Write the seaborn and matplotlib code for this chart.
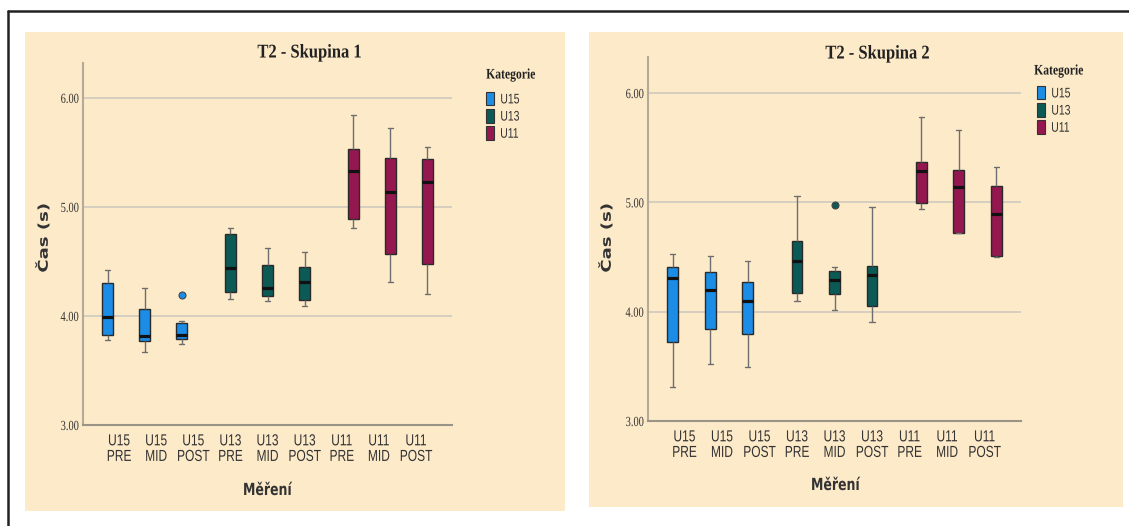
import numpy as np
import pandas as pd
import matplotlib
matplotlib.use("Agg")
import matplotlib.pyplot as plt
from matplotlib.patches import Rectangle, Patch
from matplotlib.transforms import Affine2D
from matplotlib import patheffects
import seaborn as sns

# Measurement sessions (x axis) and age categories (hue)
measurements = ["U15\nPRE", "U15\nMID", "U15\nPOST",
                "U13\nPRE", "U13\nMID", "U13\nPOST",
                "U11\nPRE", "U11\nMID", "U11\nPOST"]
box_category = ["U15", "U15", "U15", "U13", "U13", "U13", "U11", "U11", "U11"]
categories = ["U15", "U13", "U11"]
palette = ["#1c8de6", "#0b5a56", "#95174f"]

# Group 1: five-number summaries (s) per measurement, plus outliers
g1_low = [3.78, 3.67, 3.74, 4.16, 4.14, 4.09, 4.81, 4.31, 4.20]
g1_q1 = [3.83, 3.77, 3.79, 4.22, 4.18, 4.15, 4.89, 4.57, 4.48]
g1_med = [3.99, 3.82, 3.83, 4.44, 4.26, 4.31, 5.33, 5.14, 5.23]
g1_q3 = [4.30, 4.06, 3.94, 4.75, 4.47, 4.45, 5.53, 5.45, 5.44]
g1_high = [4.42, 4.26, 3.95, 4.81, 4.62, 4.59, 5.84, 5.72, 5.55]
g1_outlier = [None, None, 4.19, None, None, None, None, None, None]

# Group 2
g2_low = [3.31, 3.52, 3.49, 4.10, 4.02, 3.91, 4.94, 4.72, 4.50]
g2_q1 = [3.72, 3.84, 3.80, 4.17, 4.16, 4.05, 4.99, 4.72, 4.51]
g2_med = [4.31, 4.20, 4.10, 4.46, 4.29, 4.34, 5.29, 5.14, 4.89]
g2_q3 = [4.41, 4.36, 4.27, 4.65, 4.37, 4.42, 5.37, 5.30, 5.15]
g2_high = [4.53, 4.51, 4.46, 5.06, 4.41, 4.96, 5.78, 5.66, 5.32]
g2_outlier = [None, None, None, None, 4.98, None, None, None, None]


def build_frame(low, q1, med, q3, high, outlier):
    """Expand each summary into 9 observations whose quartiles equal it."""
    rows = []
    for i, m in enumerate(measurements):
        if outlier[i] is None:
            vals = [low[i], q1[i], q1[i], q1[i], med[i], q3[i], q3[i], q3[i], high[i]]
        else:
            vals = [low[i], q1[i], q1[i], q1[i], med[i], q3[i], q3[i], high[i], outlier[i]]
        for v in vals:
            rows.append({"Měření": m, "Kategorie": box_category[i], "Čas (s)": v})
    return pd.DataFrame(rows)


df1 = build_frame(g1_low, g1_q1, g1_med, g1_q3, g1_high, g1_outlier)
df2 = build_frame(g2_low, g2_q1, g2_med, g2_q3, g2_high, g2_outlier)


class Squash(patheffects.AbstractPathEffect):
    """Scale glyph outlines about their own centre (condensed lettering)."""

    def __init__(self, sx=1.0, sy=1.0):
        super().__init__()
        self.sx, self.sy = sx, sy

    def draw_path(self, renderer, gc, tpath, affine, rgbFace=None):
        ext = tpath.get_extents()
        cx, cy = (ext.x0 + ext.x1) / 2, (ext.y0 + ext.y1) / 2
        aff = (Affine2D().translate(-cx, -cy).scale(self.sx, self.sy)
               .translate(cx, cy) + affine)
        renderer.draw_path(gc, tpath, aff, rgbFace)


SQ = 0.75
narrow_fx = [Squash(SQ, 1.0)]
rot_fx = [Squash(1.0, SQ)]

sns.set_theme(style="white")
plt.rcParams["font.family"] = ["DejaVu Sans"]

W, H = 1129, 526
fig = plt.figure(figsize=(W / 100, H / 100), dpi=100, facecolor="white")

bg = "#fdeac9"
serif = ["Liberation Serif", "DejaVu Serif"]
sans = ["Liberation Sans", "DejaVu Sans"]


def px(x, y):
    return x / W, 1 - y / H


# outer frame lines (top and left)
fig.add_artist(plt.Line2D([8 / W, 1.0], [1 - 11 / H, 1 - 11 / H], color="#222222", lw=1.8,
                          transform=fig.transFigure))
fig.add_artist(plt.Line2D([8 / W, 8 / W], [0, 1 - 11 / H], color="#222222", lw=1.8,
                          transform=fig.transFigure))

# panel backgrounds
for (x0, y0, x1, y1) in [(25, 32, 565, 511), (589, 32, 1123, 507)]:
    fig.add_artist(Rectangle((x0 / W, 1 - y1 / H), (x1 - x0) / W, (y1 - y0) / H,
                             transform=fig.transFigure, facecolor=bg, edgecolor="none",
                             zorder=0))

panels = [
    dict(df=df1, rect=(83, 63, 452, 425), ytop=6.32, title="T2 - Skupina 1",
         title_xy=(310, 53), ylabel_xy=(44, 238), xlabel_xy=(267, 490),
         legtitle_xy=(480, 75), legend_xy=(486, 92)),
    dict(df=df2, rect=(648, 57, 1021, 421), ytop=6.33, title="T2 - Skupina 2",
         title_xy=(878, 54), ylabel_xy=(607, 238), xlabel_xy=(835, 485),
         legtitle_xy=(1028, 71), legend_xy=(1037, 86)),
]

for p in panels:
    x0, y0, x1, y1 = p["rect"]
    ax = fig.add_axes([x0 / W, 1 - y1 / H, (x1 - x0) / W, (y1 - y0) / H])
    ax.set_facecolor(bg)
    sns.boxplot(data=p["df"], x="Měření", y="Čas (s)", hue="Kategorie",
                order=measurements, hue_order=categories, palette=palette,
                dodge=True, width=0.93, gap=0.08, whis=1.5, saturation=1,
                linewidth=1.0, linecolor="#2a2a2a",
                whiskerprops=dict(color="#6e6e6e", linewidth=1.0),
                capprops=dict(color="#6e6e6e", linewidth=1.0),
                medianprops=dict(color="#111111", linewidth=2.3),
                flierprops=dict(marker="o", markersize=5, markeredgecolor="#444444",
                                markeredgewidth=0.8),
                legend=False, ax=ax)
    # colour outlier markers with their box colour
    for cont, col in zip(ax.containers, palette):
        fl = getattr(cont, "fliers", None)
        if fl is None:
            continue
        for f in fl:
            f.set_markerfacecolor(col)

    ax.set_ylim(3.0, p["ytop"])
    ax.set_xlim(-0.97, len(measurements) - 0.03)
    ax.set_yticks([3, 4, 5, 6])
    ax.set_yticklabels(["3.00", "4.00", "5.00", "6.00"])
    for t in ax.get_yticklabels():
        t.set_fontfamily(serif)
        t.set_fontsize(10)
        t.set_color("#333333")
        t.set_path_effects(narrow_fx)
    for t in ax.get_xticklabels():
        t.set_fontfamily(sans)
        t.set_fontsize(11.5)
        t.set_color("#333333")
        t.set_linespacing(1.05)
        t.set_path_effects(narrow_fx)
    ax.tick_params(axis="y", length=0, pad=1)
    ax.tick_params(axis="x", length=0, pad=6)
    for yv in [4, 5, 6]:
        ax.axhline(yv, color="#d2ccbd", lw=1.3, zorder=0)
    for s in ["top", "right"]:
        ax.spines[s].set_visible(False)
    ax.spines["left"].set_color("#b3aa98")
    ax.spines["left"].set_linewidth(1.5)
    ax.spines["bottom"].set_color("#9a9486")
    ax.spines["bottom"].set_linewidth(1.5)
    ax.set_xlabel("")
    ax.set_ylabel("")

    fig.text(*px(*p["title_xy"]), p["title"], ha="center", va="center",
             fontfamily=serif, fontweight="bold", fontsize=14, color="#222222",
             path_effects=[Squash(0.85, 1.0)])
    fig.text(*px(*p["ylabel_xy"]), "Čas (s)", ha="center", va="center", rotation=90,
             fontweight="bold", fontsize=13, color="#333333", path_effects=rot_fx)
    fig.text(*px(*p["xlabel_xy"]), "Měření", ha="center", va="center",
             fontweight="bold", fontsize=12, color="#333333", path_effects=narrow_fx)
    fig.text(*px(*p["legtitle_xy"]), "Kategorie", ha="left", va="center",
             fontfamily=serif, fontweight="bold", fontsize=10.5, color="#222222",
             path_effects=[Squash(0.8, 1.0)])

    handles = [Patch(facecolor=c, edgecolor="#333333", linewidth=0.8) for c in palette]
    leg = fig.legend(handles, categories, loc="upper left",
                     bbox_to_anchor=px(*p["legend_xy"]), frameon=False,
                     handlelength=0.55, handleheight=1.1,
                     handletextpad=0.25, labelspacing=0.2, borderpad=0,
                     borderaxespad=0,
                     prop=dict(family=sans, size=10))
    for t in leg.get_texts():
        t.set_path_effects(narrow_fx)
        t.set_color("#333333")

fig.savefig("out.png", dpi=100, facecolor="white")
